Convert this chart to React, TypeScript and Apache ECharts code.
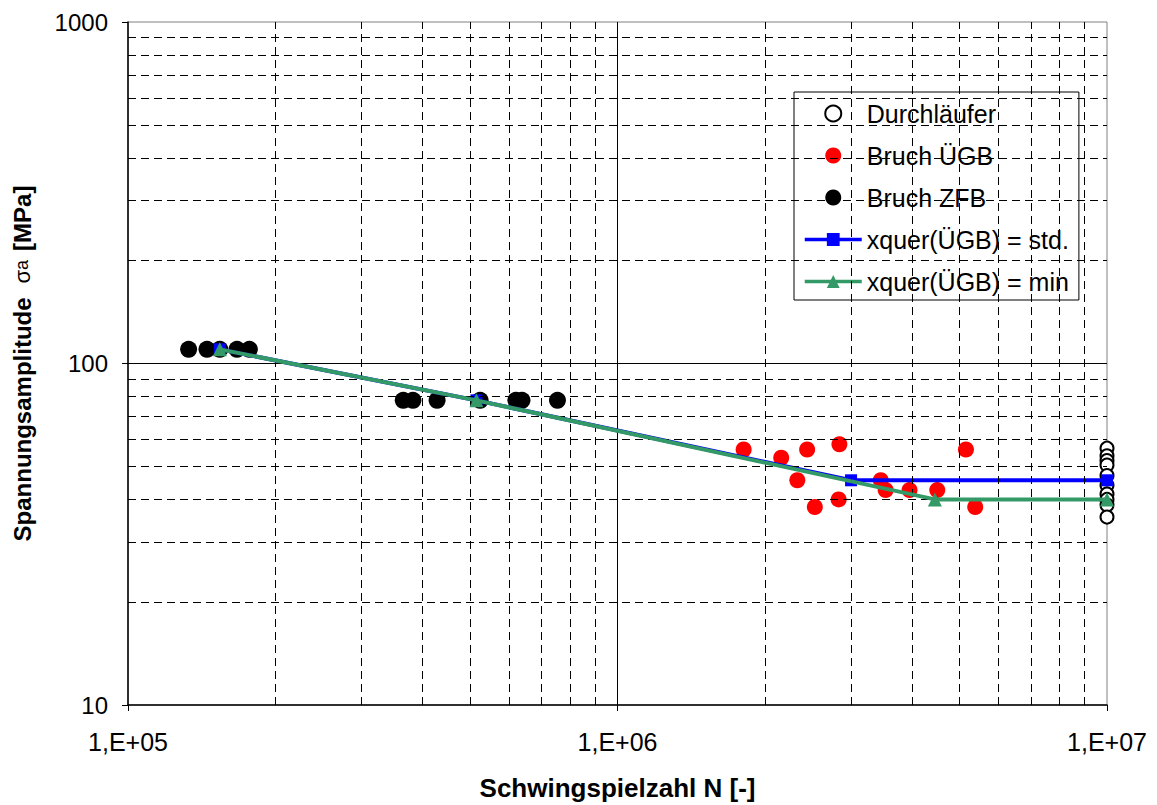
import React, { useEffect, useRef } from "react";
import * as echarts from "echarts";

// Durchläufer (run-outs) at 1e7 cycles
const durchlaeuferN = [1e7, 1e7, 1e7, 1e7, 1e7, 1e7, 1e7, 1e7, 1e7, 1e7];
const durchlaeuferS = [56.5, 53.7, 52, 50.4, 47, 44, 41.5, 40, 38.5, 35.5];

// Bruch ÜGB
const uegbN = [1.81e6, 2.16e6, 2.44e6, 2.84e6, 2.33e6, 2.53e6, 2.83e6, 3.45e6, 3.53e6, 3.95e6, 4.5e6, 5.15e6, 5.38e6];
const uegbS = [56, 53, 56, 58, 45.5, 38, 40, 45.5, 42.6, 42.6, 42.6, 56, 38];

// Bruch ZFB
const zfbN = [1.33e5, 1.45e5, 1.54e5, 1.67e5, 1.77e5, 3.65e5, 3.82e5, 4.28e5, 5.24e5, 6.2e5, 6.38e5, 7.54e5];
const zfbS = [110, 110, 110, 110, 110, 78, 78, 78, 78, 78, 78, 78];

// Wöhler lines
const stdN = [1.54e5, 5.15e5, 3.0e6, 1e7];
const stdS = [110, 78, 45.5, 45.5];
const minN = [1.54e5, 5.15e5, 4.45e6, 1e7];
const minS = [110, 78, 40, 40];

// grid lines
const yMinor = [20, 30, 40, 50, 60, 70, 80, 90, 200, 300, 400, 500, 600, 700, 800, 900];
const xMinor = [2e5, 3e5, 4e5, 5e5, 6e5, 7e5, 8e5, 9e5, 2e6, 3e6, 4e6, 5e6, 6e6, 7e6, 8e6, 9e6];
const yMajor = [100];
const xMajor = [1e6];

const xLabels: Record<string, string> = { "100000": "1,E+05", "1000000": "1,E+06", "10000000": "1,E+07" };

const zip = (a: number[], b: number[]) => a.map((v, i) => [v, b[i]]);

const FONT = "'Liberation Sans', Arial, sans-serif";

export default function App() {
  const ref = useRef<HTMLDivElement>(null);
  useEffect(() => {
    const chart = echarts.init(ref.current!, null, { renderer: "svg" });
    const dash = { type: [8, 5] as any, color: "#000", width: 1 };
    const solid = { type: "solid" as any, color: "#000", width: 1 };
    const markData: any[] = [
      ...yMinor.map((v) => ({ yAxis: v, lineStyle: dash })),
      ...xMinor.map((v) => ({ xAxis: v, lineStyle: dash })),
      ...yMajor.map((v) => ({ yAxis: v, lineStyle: solid })),
      ...xMajor.map((v) => ({ xAxis: v, lineStyle: solid })),
    ];
    chart.setOption({
      animation: false,
      backgroundColor: "#fff",
      textStyle: { fontFamily: FONT },
      grid: {
        left: 128,
        right: 50,
        top: 22,
        bottom: 100,
        show: true,
        borderColor: "#808080",
        borderWidth: 1,
        backgroundColor: "transparent",
        outerBoundsMode: "none",
      },
      legend: {
        orient: "vertical",
        left: 794,
        top: 92,
        padding: [9, 10, 6, 9],
        itemGap: 17,
        itemWidth: 57,
        itemHeight: 16,
        backgroundColor: "#fff",
        borderColor: "#000",
        borderWidth: 1,
        borderRadius: 0,
        lineStyle: { width: 3.5 },
        textStyle: { fontSize: 25, color: "#000", fontFamily: FONT },
        data: ["Durchläufer", "Bruch ÜGB", "Bruch ZFB", "xquer(ÜGB) = std.", "xquer(ÜGB) = min"],
      },
      xAxis: {
        type: "log",
        logBase: 10,
        min: 1e5,
        max: 1e7,
        name: "Schwingspielzahl N [-]",
        nameLocation: "middle",
        nameGap: 70,
        nameTextStyle: { fontSize: 26, fontWeight: "bold", color: "#000", fontFamily: FONT },
        axisLine: { lineStyle: { color: "#000", width: 1.5 } },
        axisTick: { show: true, length: 6, inside: false, lineStyle: { color: "#000" } },
        axisLabel: {
          fontSize: 25,
          color: "#000",
          margin: 24,
          fontFamily: FONT,
          formatter: (v: number) => xLabels[String(Math.round(v))] ?? "",
        },
        splitLine: { show: false },
      },
      yAxis: {
        type: "log",
        logBase: 10,
        min: 10,
        max: 1000,
        name: "{b|Spannungsamplitude}{s|σ}{sub|a}{b2|[MPa]}",
        nameLocation: "middle",
        nameGap: 94,
        nameTextStyle: {
          color: "#000",
          fontFamily: FONT,
          rich: {
            b: { fontSize: 24, fontWeight: "bold", color: "#000", fontFamily: FONT },
            b2: { fontSize: 24, fontWeight: "bold", color: "#000", fontFamily: FONT, padding: [0, 0, 0, 9] },
            s: { fontSize: 22, color: "#000", fontFamily: FONT, padding: [0, 0, 0, 14] },
            sub: { fontSize: 18, color: "#000", fontFamily: FONT },
          },
        },
        axisLine: { lineStyle: { color: "#000", width: 1.5 } },
        axisTick: { show: true, length: 6, lineStyle: { color: "#000" } },
        axisLabel: {
          fontSize: 24,
          color: "#000",
          margin: 20,
          fontFamily: FONT,
          formatter: (v: number) => String(Math.round(v)),
        },
        splitLine: { show: false },
      },
      series: [
        {
          name: "_grid",
          type: "line",
          z: 0,
          silent: true,
          symbol: "none",
          data: [[1e5, 10]],
          lineStyle: { width: 0 },
          markLine: {
            silent: true,
            symbol: ["none", "none"],
            label: { show: false },
            animation: false,
            data: markData,
          },
        },
        {
          name: "Durchläufer",
          type: "scatter",
          z: 3,
          symbol: "circle",
          symbolSize: 13,
          itemStyle: { color: "#fff", borderColor: "#000", borderWidth: 2, opacity: 1 },
          data: zip(durchlaeuferN, durchlaeuferS),
        },
        {
          name: "Bruch ÜGB",
          type: "scatter",
          z: 3,
          symbol: "circle",
          symbolSize: 16,
          itemStyle: { color: "#ff0000", opacity: 1 },
          data: zip(uegbN, uegbS),
        },
        {
          name: "Bruch ZFB",
          type: "scatter",
          z: 3,
          symbol: "circle",
          symbolSize: 17,
          itemStyle: { color: "#000", opacity: 1 },
          data: zip(zfbN, zfbS),
        },
        {
          name: "xquer(ÜGB) = std.",
          type: "line",
          z: 4,
          symbol: "rect",
          symbolSize: 12,
          showAllSymbol: true,
          color: "#0000ff",
          lineStyle: { color: "#0000ff", width: 4 },
          itemStyle: { color: "#0000ff" },
          data: zip(stdN, stdS),
        },
        {
          name: "xquer(ÜGB) = min",
          type: "line",
          z: 5,
          symbol: "triangle",
          symbolSize: 14,
          showAllSymbol: true,
          color: "#339966",
          lineStyle: { color: "#339966", width: 4 },
          itemStyle: { color: "#339966" },
          data: zip(minN, minS),
        },
      ],
    });
    return () => chart.dispose();
  }, []);
  return (
    <div
      ref={ref}
      style={{ position: "fixed", left: 0, top: 0, width: 1157, height: 805, background: "#fff" }}
    />
  );
}
